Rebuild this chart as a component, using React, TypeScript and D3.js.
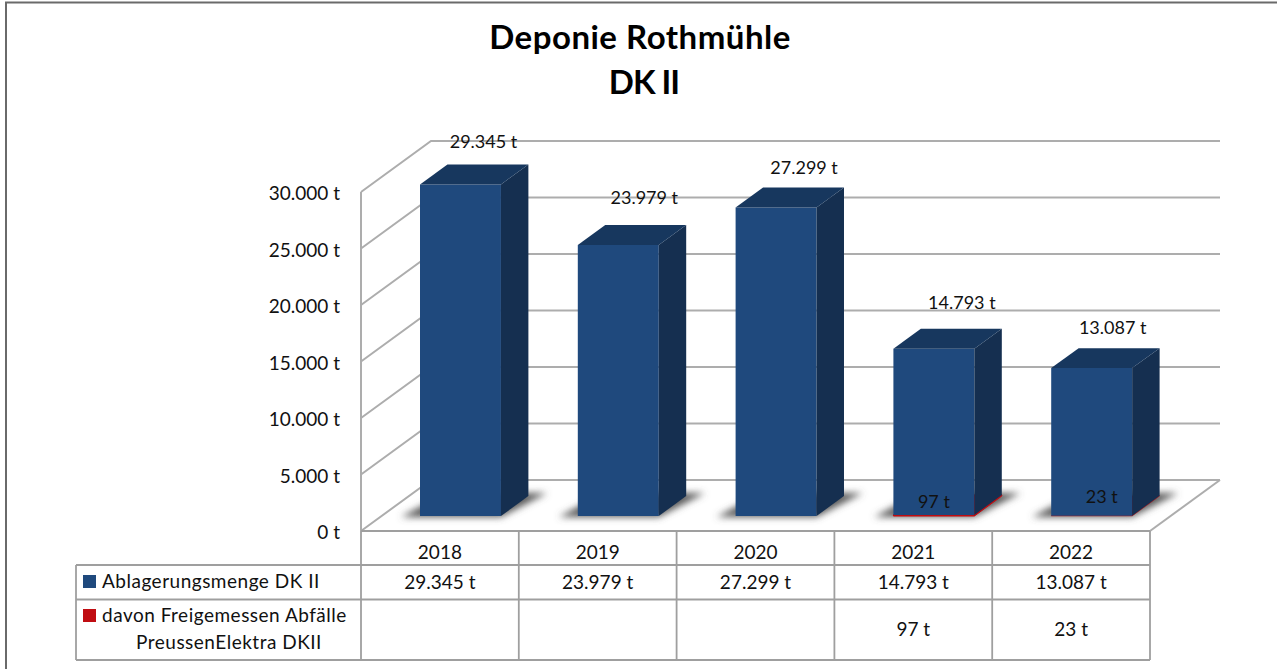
import * as d3 from "d3";

const years = ["2018", "2019", "2020", "2021", "2022"];
const ablagerung = [29345, 23979, 27299, 14793, 13087];
const freigemessen = [0, 0, 0, 97, 23];
const yTicks = [0, 5000, 10000, 15000, 20000, 25000, 30000];
const titleLines = ["Deponie Rothmühle", "DK II"];
const seriesNames = ["Ablagerungsmenge DK II", "davon Freigemessen Abfälle", "PreussenElektra DKII"];

// hand placed labels in the original, offset from the top front centre of each bar
const totalLabelNudge = [
  [23, -42],
  [26, -47],
  [28, -40],
  [28, -46],
  [21, -40],
];
const smallLabelNudge = [null, null, null, [0, -14], [10, -19]];

const width = 1277;
const height = 669;
const font = "Lato, 'Open Sans', sans-serif";

const colors = {
  front: "#1f497d",
  side: "#152f50",
  top: "#17375e",
  red: "#c00d12",
  redSide: "#a01c2a",
  grid: "#adadad",
  table: "#9f9f9f",
  frame: "#6a6a6a",
  text: "#111",
};

// front plane of the pseudo 3d box
const x = d3.scaleBand<string>().domain(years).range([361, 1150]).paddingInner(0.487).paddingOuter(0.2435);
const y = d3.scaleLinear().domain([0, 30000]).range([531, 192]);

const depth = { dx: 70, dy: -51 };
const barNear = 0.294;
const barFar = 0.686;

const px = (xv: number, z: number) => xv + depth.dx * z;
const py = (yv: number, z: number) => yv + depth.dy * z;
const fmt = (v: number) => `${d3.format(",")(v).replace(/,/g, ".")} t`;
const pts = (p: [number, number][]) => p.map((d) => d.join(",")).join(" ");

function Bar3D({ year, from, to, fill, side, top, stroke, strokeOpacity }: { year: string; from: number; to: number; fill: string; side: string; top: string; stroke?: string; strokeOpacity?: number }) {
  const x0 = x(year) as number;
  const x1 = x0 + x.bandwidth();
  const yA = y(from);
  const yB = y(to);
  const sw = stroke ? 1 : 0;
  return (
    <g strokeWidth={sw} strokeOpacity={strokeOpacity}>
      <polygon fill={fill} stroke={stroke} points={pts([[px(x0, barNear), py(yA, barNear)], [px(x1, barNear), py(yA, barNear)], [px(x1, barNear), py(yB, barNear)], [px(x0, barNear), py(yB, barNear)]])} />
      <polygon fill={side} stroke={stroke} points={pts([[px(x1, barNear), py(yA, barNear)], [px(x1, barFar), py(yA, barFar)], [px(x1, barFar), py(yB, barFar)], [px(x1, barNear), py(yB, barNear)]])} />
      <polygon fill={top} stroke={stroke} points={pts([[px(x0, barNear), py(yB, barNear)], [px(x1, barNear), py(yB, barNear)], [px(x1, barFar), py(yB, barFar)], [px(x0, barFar), py(yB, barFar)]])} />
    </g>
  );
}

export default function App() {
  const xLeft = x.range()[0];
  const xRight = x.range()[1];
  const floorY = y(0);
  const colEdges = [...years.map((_, i) => xLeft + (i * (xRight - xLeft)) / years.length), xRight];
  const tableLeft = 76;
  const rowY = [565, 599.5, 660];

  return (
    <svg width={width} height={height} style={{ position: "absolute", left: 0, top: 0, fontFamily: font }}>
      <defs>
        <filter id="shadow-blur" x="-20%" y="-50%" width="140%" height="200%">
          <feGaussianBlur stdDeviation="3.5" />
        </filter>
      </defs>
      <rect width={width} height={height} fill="#fff" />
      <path d={`M6,${height}V2.5H${width}`} fill="none" stroke={colors.frame} strokeWidth={2} />

      {titleLines.map((t, i) => (
        <text key={t} x={i === 0 ? 640 : 644} y={49 + i * 45} textAnchor="middle" fontSize={33} letterSpacing={i === 0 ? 0.5 : -1} fontWeight={700} fill="#000">
          {t}
        </text>
      ))}

      {/* walls */}
      <g stroke={colors.grid} strokeWidth={2} fill="none">
        {yTicks.map((t) => (
          <polyline key={t} points={pts([[xLeft, y(t)], [px(xLeft, 1), py(y(t), 1)], [px(xRight, 1), py(y(t), 1)]])} />
        ))}
        <line x1={xLeft} x2={xLeft} y1={y(0)} y2={y(30000)} />
        <line x1={px(xRight, 1)} y1={py(floorY, 1)} x2={xRight} y2={floorY} />
      </g>

      {yTicks.map((t) => (
        <text key={t} x={340} y={y(t) + 8} textAnchor="end" fontSize={19} fill={colors.text}>
          {fmt(t)}
        </text>
      ))}

      {/* floor shadows */}
      {years.map((yr) => {
        const x0 = px(x(yr) as number, barNear);
        const x1 = x0 + x.bandwidth();
        const b = py(floorY, barNear) + 1;
        return <polygon key={yr} fill="#5a5a5a" filter="url(#shadow-blur)" points={pts([[x0 - 19, b], [x1, b], [x1 + 46, b - 24], [x0 + 26, b - 24]])} />;
      })}

      {years.map((yr, i) => (
        <g key={yr}>
          {freigemessen[i] > 0 && <Bar3D year={yr} from={0} to={freigemessen[i]} fill={colors.red} side={colors.redSide} top={colors.red} stroke={colors.red} strokeOpacity={freigemessen[i] / 97} />}
          <Bar3D year={yr} from={freigemessen[i]} to={ablagerung[i]} fill={colors.front} side={colors.side} top={colors.top} />
        </g>
      ))}

      {years.map((yr, i) => {
        const cx = px(x(yr) as number, barNear) + x.bandwidth() / 2;
        const n = totalLabelNudge[i];
        const s = smallLabelNudge[i];
        return (
          <g key={yr} fontSize={18} fill={colors.text} textAnchor="middle">
            <text x={cx + n[0]} y={py(y(ablagerung[i]), barNear) + n[1] + 6}>
              {fmt(ablagerung[i])}
            </text>
            {s && (
              <text x={cx + s[0]} y={py(floorY, barNear) + s[1] + 6}>
                {fmt(freigemessen[i])}
              </text>
            )}
          </g>
        );
      })}

      {/* data table */}
      <g stroke={colors.table} strokeWidth={1.8} fill="none">
        <line x1={xLeft} x2={xRight} y1={floorY} y2={floorY} />
        <line x1={tableLeft} x2={xRight} y1={rowY[0]} y2={rowY[0]} />
        <line x1={tableLeft} x2={xRight} y1={rowY[1]} y2={rowY[1]} />
        <line x1={tableLeft} x2={xRight} y1={rowY[2]} y2={rowY[2]} />
        <line x1={tableLeft} x2={tableLeft} y1={rowY[0]} y2={rowY[2]} />
        {colEdges.map((e) => (
          <line key={e} x1={e} x2={e} y1={floorY} y2={rowY[2]} />
        ))}
      </g>

      <g fontSize={19} fill={colors.text} textAnchor="middle">
        {years.map((yr, i) => {
          const cx = (colEdges[i] + colEdges[i + 1]) / 2;
          return (
            <g key={yr}>
              <text x={cx} y={559}>{yr}</text>
              <text x={cx} y={589}>{fmt(ablagerung[i])}</text>
              {freigemessen[i] > 0 && <text x={cx} y={636}>{fmt(freigemessen[i])}</text>}
            </g>
          );
        })}
      </g>

      <rect x={83} y={575} width={13} height={13} fill={colors.front} />
      <rect x={83} y={609} width={13} height={13} fill={colors.red} />
      <g fontSize={19} letterSpacing={0.5} fill={colors.text}>
        <text x={102} y={588}>{seriesNames[0]}</text>
        <text x={102} y={622}>{seriesNames[1]}</text>
        <text x={136} y={649}>{seriesNames[2]}</text>
      </g>
    </svg>
  );
}
